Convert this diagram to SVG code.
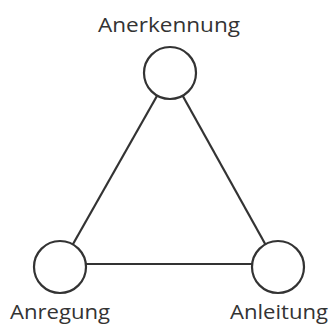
<svg xmlns="http://www.w3.org/2000/svg" width="332" height="325" viewBox="0 0 332 325">
<style>
.n{fill:#fff;stroke:#333;stroke-width:2.2}
.e{stroke:#333;stroke-width:2.2;fill:none}
.t{font-family:"Open Sans","Noto Sans",sans-serif;font-size:20px;fill:#333}
</style>
<rect width="332" height="325" fill="#fff"/>
<g id="edges">
<line class="e" x1="170" y1="73" x2="60" y2="267"/>
<line class="e" x1="170" y1="73" x2="278" y2="267"/>
<line class="e" x1="60" y1="264" x2="278" y2="264"/>
</g>
<g id="anerkennung">
<circle class="n" cx="170" cy="73" r="26"/>
<text class="t" x="169" y="32" text-anchor="middle" textLength="142" lengthAdjust="spacingAndGlyphs">Anerkennung</text>
</g>
<g id="anregung">
<circle class="n" cx="60" cy="267" r="26"/>
<text class="t" x="60" y="319" text-anchor="middle" textLength="100" lengthAdjust="spacingAndGlyphs">Anregung</text>
</g>
<g id="anleitung">
<circle class="n" cx="278" cy="267" r="26"/>
<text class="t" x="279" y="319" text-anchor="middle" textLength="98" lengthAdjust="spacingAndGlyphs">Anleitung</text>
</g>
</svg>
